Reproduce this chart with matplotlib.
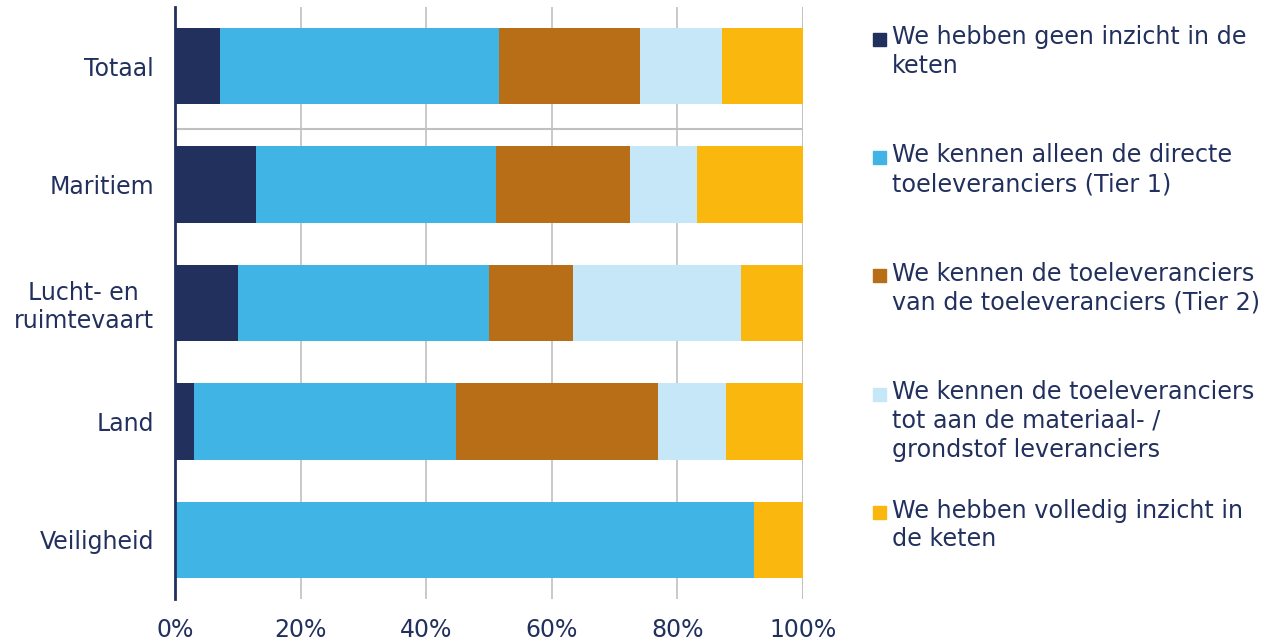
import numpy as np
import matplotlib.pyplot as plt
from matplotlib.patches import Rectangle

# aandeel per sector (%), per niveau van inzicht in de keten
sectoren = ['Totaal', 'Maritiem', 'Lucht- en  \nruimtevaart', 'Land', 'Veiligheid']
geen_inzicht = [7.1, 12.9, 10.0, 3.1, 0.0]
tier1 = [44.5, 38.2, 40.0, 41.6, 92.2]
tier2 = [22.5, 21.4, 13.4, 32.2, 0.0]
materiaal = [13.0, 10.6, 26.7, 10.8, 0.0]
volledig = [12.9, 16.9, 9.9, 12.3, 7.8]

series = [geen_inzicht, tier1, tier2, materiaal, volledig]
labels = [
    'We hebben geen inzicht in de\nketen',
    'We kennen alleen de directe\ntoeleveranciers (Tier 1)',
    'We kennen de toeleveranciers\nvan de toeleveranciers (Tier 2)',
    'We kennen de toeleveranciers\ntot aan de materiaal- /\ngrondstof leveranciers',
    'We hebben volledig inzicht in\nde keten',
]
kleuren = ['#21305C', '#41B4E6', '#B86E16', '#C6E7F7', '#FAB80F']
tekst = '#22305E'
grijs = '#C0C0C0'

fig = plt.figure(figsize=(12.66, 6.43), dpi=100)
ax = fig.add_axes([175 / 1266, 1 - 599 / 643, 628 / 1266, 592 / 643])

y = np.arange(len(sectoren))
links = np.zeros(len(sectoren))
for waarden, kleur in zip(series, kleuren):
    ax.barh(y, waarden, left=links, height=0.645, color=kleur, zorder=3)
    links += np.array(waarden)

ax.set_xlim(0, 100)
ax.set_ylim(4.5, -0.5)
ax.set_xticks(np.arange(0, 101, 20))
ax.set_xticklabels([f'{v}%' for v in range(0, 101, 20)])
ax.set_yticks(y)
ax.set_yticklabels(sectoren, multialignment='right')
ax.tick_params(length=0, labelsize=17, colors=tekst)
ax.tick_params(axis='x', pad=14)
ax.tick_params(axis='y', pad=15)

ax.grid(axis='x', color=grijs, linewidth=1.2, zorder=0)
ax.axhline(0.53, color=grijs, linewidth=1.5, zorder=1)
ax.axvline(100, color=grijs, linewidth=1.2, zorder=0)
for s in ['top', 'right', 'bottom']:
    ax.spines[s].set_visible(False)
ax.spines['left'].set_color(tekst)
ax.spines['left'].set_linewidth(2)
ax.spines['left'].set_zorder(4)

# legenda naast de balken, op hoogte van elke sector
for i, (lab, kleur) in enumerate(zip(labels, kleuren)):
    yc = 1 - (39 + 118.4 * i) / 643
    fig.patches.append(Rectangle((873 / 1266, yc - 6.5 / 643), 13 / 1266, 13 / 643,
                                 transform=fig.transFigure, color=kleur))
    fig.text(892 / 1266, yc + 14 / 643, lab, fontsize=17.2, color=tekst,
             va='top', ha='left', linespacing=1.25)

fig.savefig('out.png', dpi=100)
